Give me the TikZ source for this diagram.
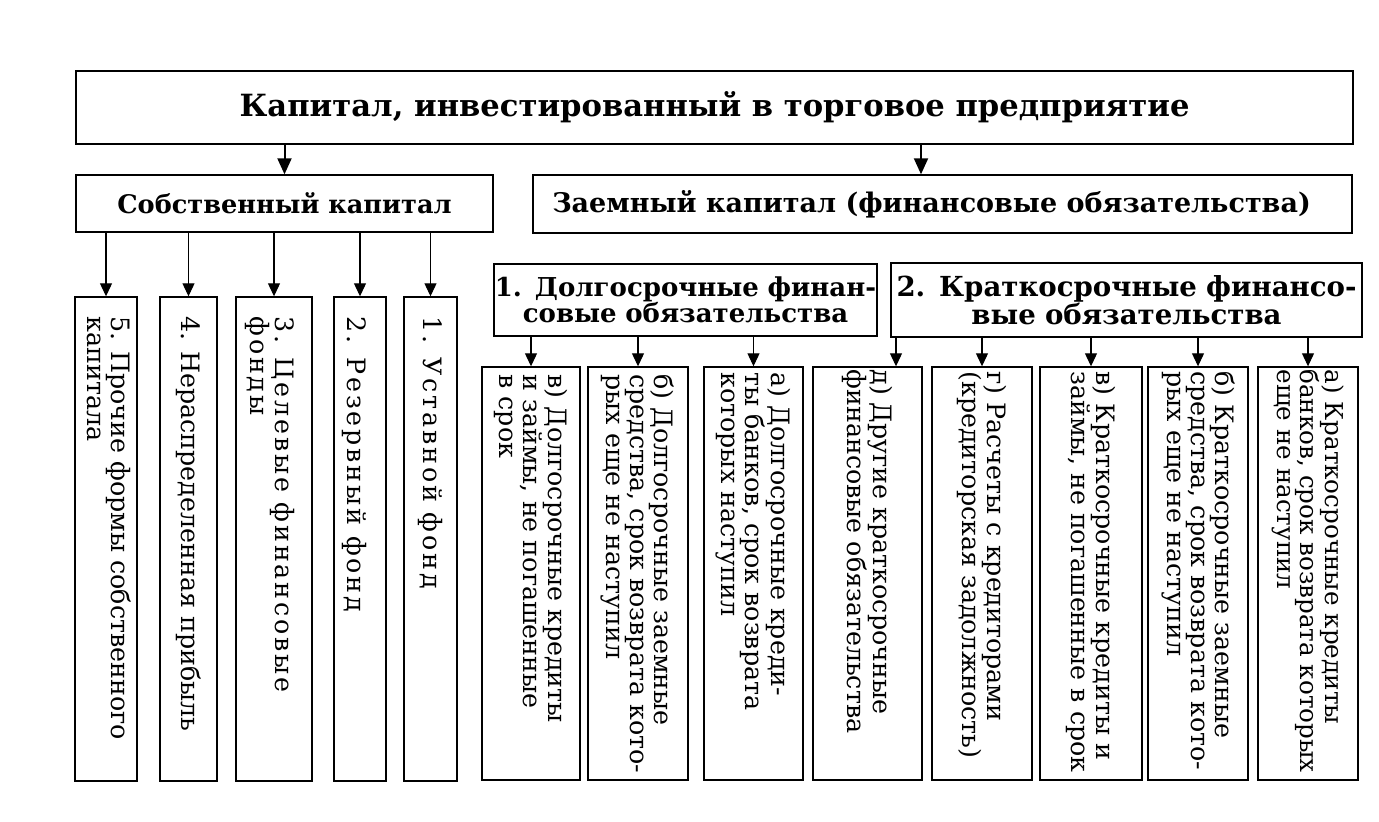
\documentclass[tikz,border=0pt]{standalone}
\usepackage{fontspec}
\setmainfont{Liberation Serif}
\newfontfamily\hdrfont{DejaVu Serif}
\newfontfamily\vfont{DejaVu Serif}
\usetikzlibrary{arrows.meta}
\tikzset{
  box/.style={draw, line width=1.4pt, inner sep=0pt},
  hdr/.style={font=\hdrfont\bfseries\fontsize{27}{25}\selectfont, align=center},
  vtext/.style={font=\vfont\fontsize{25.3}{24}\selectfont, rotate=-90, anchor=west, align=left, inner sep=0pt},
  vsmall/.style={vtext, font=\vfont\fontsize{24.6}{23.5}\selectfont},
  vwide/.style={vtext, font=\vfont\fontsize{25.3}{24}\selectfont\addfontfeature{LetterSpace=11}},
  arr/.style={line width=1.1pt, -{Triangle[width=12pt,length=13pt]}},
  bigarr/.style={line width=2pt, -{Triangle[width=14pt,length=16pt]}},
}
\begin{document}
\begin{tikzpicture}[x=1pt,y=-1pt]
\fill[white] (0,0) rectangle (1379,822);
\useasboundingbox (0,0) rectangle (1379,822);
% top
\node[box, minimum width=1277pt, minimum height=73pt, hdr, font=\hdrfont\bfseries\fontsize{30.6}{30}\selectfont] (top) at (714.5,107.5) {Капитал, инвестированный в торговое предприятие};
\node[box, minimum width=417pt, minimum height=57pt, hdr, font=\hdrfont\bfseries\fontsize{25.6}{25}\selectfont] (sk) at (284.5,203.5) {Собственный капитал};
\node[box, minimum width=819pt, minimum height=58pt] (zk) at (942.5,204) {};
\node[hdr] (zkt) at ([xshift=-11pt]zk.center) {Заемный капитал (финансовые обязательства)};
\node[box, minimum width=383pt, minimum height=72pt, hdr, text width=383pt, font=\hdrfont\bfseries\fontsize{26}{25}\selectfont] (dl) at (685.5,300) {1. Долгосрочные финан-\\совые обязательства};
\node[box, minimum width=471pt, minimum height=74pt, hdr, text width=471pt, font=\hdrfont\bfseries\fontsize{27.6}{25}\selectfont] (kr) at (1126.5,300) {2. Краткосрочные финансо-\\вые обязательства};
% own capital items
\node[box, minimum width=62pt, minimum height=484pt] (L5) at (106,539) {};
\node[box, minimum width=57pt, minimum height=484pt] (L4) at (188.5,539) {};
\node[box, minimum width=76pt, minimum height=484pt] (L3) at (274,539) {};
\node[box, minimum width=52pt, minimum height=484pt] (L2) at (360,539) {};
\node[box, minimum width=53pt, minimum height=484pt] (L1) at (430.5,539) {};
\node[vtext] at ([xshift=3pt,yshift=-20pt]L5.north) {5. Прочие формы собственного\\капитала};
\node[vtext] at ([yshift=-20pt]L4.north) {4. Нераспределенная прибыль};
\node[vwide] at ([xshift=-4pt,yshift=-20pt]L3.north) {3. Целевые финансовые\\фонды};
\node[vwide] at ([xshift=-6pt,yshift=-20pt]L2.north) {2. Резервный фонд};
\node[vwide] at ([yshift=-20pt]L1.north) {1. Уставной фонд};
% long-term items
\node[box, minimum width=98pt, minimum height=413pt] (Dv) at (531,573.5) {};
\node[box, minimum width=100pt, minimum height=413pt] (Db) at (638,573.5) {};
\node[box, minimum width=99pt, minimum height=413pt] (Da) at (753.5,573.5) {};
\node[vtext] at ([yshift=-8pt]Dv.north) {в) Долгосрочные кредиты\\и займы, не погашенные\\в срок};
\node[vtext] at ([yshift=-8pt]Db.north) {б) Долгосрочные заемные\\средства, срок возврата кото-\\рых еще не наступил};
\node[vtext] at ([yshift=-6pt]Da.north) {а) Долгосрочные креди-\\ты банков, срок возврата\\которых наступил};
% short-term items
\node[box, minimum width=109pt, minimum height=413pt] (Kd) at (867.5,573.5) {};
\node[box, minimum width=100pt, minimum height=413pt] (Kg) at (982,573.5) {};
\node[box, minimum width=102pt, minimum height=413pt] (Kv) at (1091,573.5) {};
\node[box, minimum width=100pt, minimum height=413pt] (Kb) at (1198,573.5) {};
\node[box, minimum width=100pt, minimum height=413pt] (Ka) at (1308,573.5) {};
\node[vtext] at ([yshift=-3pt]Kd.north) {д) Другие краткосрочные\\финансовые обязательства};
\node[vtext] at ([yshift=-5pt]Kg.north) {г) Расчеты с кредиторами\\(кредиторская задолжность)};
\node[vtext] at ([yshift=-5pt]Kv.north) {в) Краткосрочные кредиты и\\займы, не погашенные в срок};
\node[vtext] at ([yshift=-5pt]Kb.north) {б) Краткосрочные заемные\\средства, срок возврата кото-\\рых еще не наступил};
\node[vsmall] at ([yshift=-3pt]Ka.north) {а) Краткосрочные кредиты\\банков, срок возврата которых\\еще не наступил};
% arrows
\coordinate (zin) at ([xshift=-21.5pt]zk.north);
\draw[bigarr] (top.south -| sk.north) -- (sk.north);
\draw[bigarr] (top.south -| zin) -- (zin);
\foreach \n in {L5,L4,L3,L2,L1}{\draw[arr] (sk.south -| \n.north) -- (\n.north);}
\foreach \n in {Dv,Db,Da}{\draw[arr] (dl.south -| \n.north) -- (\n.north);}
\coordinate (kin) at ([xshift=28.5pt]Kd.north);
\draw[arr] (kr.south -| kin) -- (kin);
\foreach \n in {Kg,Kv,Kb,Ka}{\draw[arr] (kr.south -| \n.north) -- (\n.north);}
\end{tikzpicture}
\end{document}
